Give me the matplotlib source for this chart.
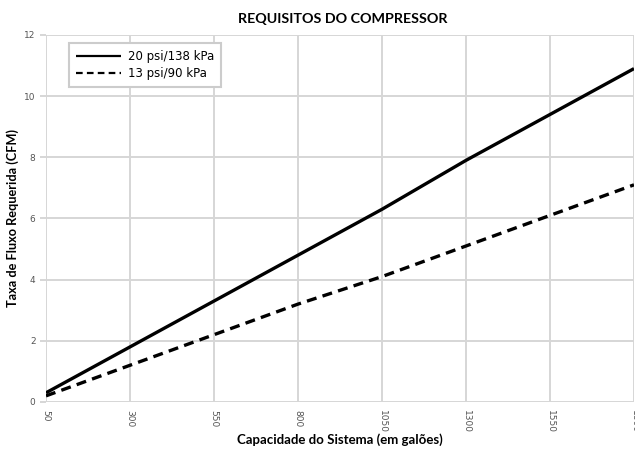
import matplotlib
matplotlib.use("Agg")
from matplotlib import pyplot as plt

# capacidade do sistema (galoes) e vazao requerida (CFM)
capacidade = [50, 300, 550, 800, 1050, 1300, 1550, 1800]
vazao_20psi = [0.3, 1.8, 3.3, 4.8, 6.3, 7.9, 9.4, 10.9]
vazao_13psi = [0.2, 1.2, 2.2, 3.2, 4.1, 5.1, 6.1, 7.1]
y_ticks = [0, 2, 4, 6, 8, 10, 12]

plt.rcParams['font.family'] = ['Lato', 'DejaVu Sans']

fig = plt.figure(figsize=(6.35, 4.5), dpi=100)
ax = fig.add_axes([0.0724, 0.1067, 0.926, 0.8156])

ax.plot(capacidade, vazao_20psi, color='black', linewidth=2.4,
        label='20 psi/138 kPa', solid_capstyle='butt')
ax.plot(capacidade, vazao_13psi, color='black', linewidth=2.4,
        linestyle=(0, (3, 1.9)), label='13 psi/90 kPa')

ax.set_xlim(50, 1800)
ax.set_ylim(0, 12)
ax.set_xticks(capacidade)
ax.set_yticks(y_ticks)
ax.set_xticklabels([str(c) for c in capacidade], rotation=-90,
                   fontsize=6.5, color='#555555', family='DejaVu Sans')
ax.set_yticklabels([str(t) for t in y_ticks], fontsize=6.5,
                   color='#555555', family='DejaVu Sans')
ax.tick_params(axis='both', colors='#d0d0d0', labelcolor='#555555',
               length=4, width=1.2)
ax.tick_params(axis='x', length=0, pad=6)

ax.grid(True, color='#d6d6d6', linewidth=1.4)
ax.set_axisbelow(True)
for side in ['top', 'right', 'left', 'bottom']:
    ax.spines[side].set_visible(False)

fig.text(0.54, 0.958, 'REQUISITOS DO COMPRESSOR', fontsize=10.3,
         fontweight='bold', ha='center', va='center')
fig.text(0.536, 0.024, 'Capacidade do Sistema (em galões)', fontsize=9.5,
         fontweight='bold', ha='center', va='center')
fig.text(0.02, 0.515, 'Taxa de Fluxo Requerida (CFM)', fontsize=9.2,
         fontweight='bold', ha='center', va='center', rotation=90)

leg = ax.legend(loc='upper left', bbox_to_anchor=(0.039, 0.978),
                borderaxespad=0, fancybox=False, framealpha=1,
                edgecolor='#cccccc', handlelength=3.8, handletextpad=0.6,
                borderpad=0.6, labelspacing=0.3,
                prop={'family': 'DejaVu Sans', 'size': 8.5})
leg.get_frame().set_linewidth(1.5)
for line in leg.get_lines():
    line.set_linewidth(1.6)

fig.savefig('out.png', dpi=100)
